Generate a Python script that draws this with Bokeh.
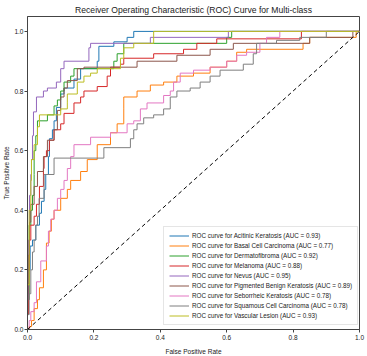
from bokeh.plotting import figure
from bokeh.models import Range1d, Legend, LegendItem, FixedTicker, PrintfTickFormatter
from bokeh.embed import file_html
from bokeh.resources import INLINE

class_names = ["Acitinic Keratosis", "Basal Cell Carcinoma", "Dermatofibroma", "Melanoma",
               "Nevus", "Pigmented Benign Keratosis", "Seborrheic Keratosis",
               "Squamous Cell Carcinoma", "Vascular Lesion"]
auc_values = [0.93, 0.77, 0.92, 0.88, 0.95, 0.89, 0.78, 0.78, 0.93]
colors = ["#1f77b4", "#ff7f0e", "#2ca02c", "#d62728", "#9467bd",
          "#8c564b", "#e377c2", "#7f7f7f", "#bcbd22"]

# (fpr, tpr) corner points: at fpr the tpr jumps to the given value
fpr_actinic = [0, 0, 0.003, 0.008, 0.015, 0.025, 0.036, 0.042, 0.05, 0.055, 0.063, 0.066, 0.075, 0.08, 0.087, 0.1, 0.11, 0.14, 0.16, 0.21, 0.215, 0.26, 0.3, 0.32, 1]
tpr_actinic = [0, 0.1, 0.2, 0.28, 0.3, 0.35, 0.39, 0.43, 0.47, 0.52, 0.58, 0.64, 0.67, 0.70, 0.745, 0.79, 0.81, 0.84, 0.875, 0.9, 0.95, 0.965, 0.98, 1.0, 1]

fpr_basal = [0, 0.005, 0.012, 0.02, 0.03, 0.036, 0.048, 0.057, 0.065, 0.072, 0.08, 0.10, 0.12, 0.13, 0.16, 0.18, 0.21, 0.25, 0.27, 0.29, 0.29, 0.33, 0.37, 0.41, 0.45, 0.5, 0.55, 0.6, 0.63, 0.66, 0.83, 0.85, 0.99, 1]
tpr_basal = [0, 0.01, 0.03, 0.07, 0.1, 0.14, 0.2, 0.29, 0.33, 0.37, 0.40, 0.44, 0.47, 0.50, 0.53, 0.57, 0.62, 0.66, 0.69, 0.74, 0.78, 0.80, 0.82, 0.83, 0.85, 0.86, 0.88, 0.9, 0.93, 0.94, 0.96, 0.98, 1.0, 1]

fpr_dermato = [0, 0, 0.005, 0.005, 0.01, 0.015, 0.02, 0.02, 0.025, 0.03, 0.06, 0.08, 0.09, 0.1, 0.11, 0.13, 0.14, 0.26, 0.27, 0.29, 0.6, 0.615, 1]
tpr_dermato = [0, 0.1, 0.2, 0.35, 0.4, 0.45, 0.52, 0.6, 0.65, 0.7, 0.72, 0.75, 0.77, 0.8, 0.83, 0.85, 0.875, 0.9, 0.925, 0.96, 0.98, 1.0, 1]

fpr_melanoma = [0, 0, 0.003, 0.005, 0.01, 0.02, 0.027, 0.036, 0.048, 0.05, 0.057, 0.066, 0.08, 0.10, 0.11, 0.14, 0.16, 0.17, 0.21, 0.24, 0.25, 0.28, 0.29, 0.38, 0.47, 0.51, 0.57, 0.825, 1]
tpr_melanoma = [0, 0.05, 0.2, 0.3, 0.35, 0.38, 0.42, 0.48, 0.54, 0.58, 0.60, 0.635, 0.67, 0.69, 0.725, 0.76, 0.78, 0.80, 0.815, 0.85, 0.88, 0.89, 0.91, 0.925, 0.94, 0.96, 0.975, 1.0, 1]

fpr_nevus = [0, 0, 0.003, 0.006, 0.01, 0.012, 0.015, 0.018, 0.027, 0.048, 0.06, 0.087, 0.10, 0.11, 0.185, 0.19, 0.37, 0.605, 1]
tpr_nevus = [0, 0.1, 0.3, 0.45, 0.52, 0.57, 0.65, 0.73, 0.78, 0.80, 0.81, 0.83, 0.875, 0.9, 0.945, 0.96, 0.98, 1.0, 1]

fpr_pbk = [0, 0, 0.004, 0.006, 0.01, 0.02, 0.03, 0.048, 0.06, 0.08, 0.09, 0.10, 0.11, 0.12, 0.15, 0.17, 0.33, 0.45, 0.55, 0.62, 0.85, 0.98, 1]
tpr_pbk = [0, 0.1, 0.25, 0.36, 0.42, 0.48, 0.53, 0.58, 0.635, 0.67, 0.735, 0.78, 0.81, 0.835, 0.875, 0.88, 0.90, 0.92, 0.94, 0.96, 0.98, 1.0, 1]

fpr_sebo = [0, 0.005, 0.01, 0.02, 0.027, 0.04, 0.057, 0.063, 0.07, 0.08, 0.09, 0.10, 0.11, 0.12, 0.13, 0.14, 0.19, 0.25, 0.30, 0.32, 0.34, 0.36, 0.41, 0.43, 0.44, 0.46, 0.5, 0.55, 0.6, 0.63, 0.66, 0.7, 0.72, 0.76, 1]
tpr_sebo = [0, 0.03, 0.06, 0.09, 0.16, 0.23, 0.28, 0.33, 0.37, 0.40, 0.44, 0.47, 0.50, 0.54, 0.58, 0.62, 0.645, 0.66, 0.69, 0.70, 0.74, 0.76, 0.785, 0.80, 0.83, 0.86, 0.87, 0.88, 0.90, 0.92, 0.93, 0.96, 0.98, 1.0, 1]

fpr_squamous = [0, 0, 0.005, 0.01, 0.015, 0.02, 0.025, 0.03, 0.035, 0.05, 0.08, 0.23, 0.31, 0.32, 0.33, 0.35, 0.38, 0.41, 0.43, 0.45, 0.49, 0.52, 0.55, 0.58, 0.65, 0.68, 0.69, 0.75, 0.82, 0.9, 1]
tpr_squamous = [0, 0.05, 0.12, 0.2, 0.26, 0.3, 0.35, 0.38, 0.44, 0.52, 0.575, 0.61, 0.64, 0.67, 0.69, 0.71, 0.72, 0.74, 0.78, 0.80, 0.81, 0.83, 0.85, 0.87, 0.89, 0.925, 0.96, 0.97, 0.98, 1.0, 1]

fpr_vascular = [0, 0, 0.005, 0.005, 0.01, 0.012, 0.02, 0.03, 0.036, 0.1, 0.12, 0.12, 0.15, 0.17, 0.19, 0.21, 0.28, 0.29, 0.32, 0.38, 1]
tpr_vascular = [0, 0.15, 0.25, 0.4, 0.5, 0.57, 0.62, 0.68, 0.72, 0.74, 0.76, 0.79, 0.83, 0.85, 0.86, 0.875, 0.91, 0.945, 0.96, 1.0, 1]

fprs = [fpr_actinic, fpr_basal, fpr_dermato, fpr_melanoma, fpr_nevus, fpr_pbk, fpr_sebo, fpr_squamous, fpr_vascular]
tprs = [tpr_actinic, tpr_basal, tpr_dermato, tpr_melanoma, tpr_nevus, tpr_pbk, tpr_sebo, tpr_squamous, tpr_vascular]

chance_x = [0, 1]
chance_y = [0, 1]
x_ticks = [0.0, 0.2, 0.4, 0.6, 0.8, 1.0]
y_ticks = [0.0, 0.2, 0.4, 0.6, 0.8, 1.0]

FONT = "Liberation Sans"
TXT = "#222222"
FRAME = "#444444"


def staircase(xs, ys):
    # ROC curve drawn as horizontal run then vertical jump at each fpr
    sx, sy = [xs[0]], [ys[0]]
    for i in range(1, len(xs)):
        sx += [xs[i], xs[i]]
        sy += [ys[i - 1], ys[i]]
    return sx, sy


p = figure(frame_width=332, frame_height=313, x_range=Range1d(0, 1), y_range=Range1d(0, 1.05),
           output_backend="svg", toolbar_location=None,
           min_border_left=26, min_border_right=9, min_border_top=16, min_border_bottom=27,
           title="Receiver Operating Characteristic (ROC) Curve for Multi-class")
p.margin = (0, 0, 0, 0)
p.title.align = "center"
p.title.text_font = FONT
p.title.text_font_size = "8.6px"
p.title.text_font_style = "normal"
p.title.text_color = TXT
p.title.standoff = 3
p.grid.visible = False
p.outline_line_color = FRAME
p.outline_line_width = 1
p.background_fill_color = "white"
p.border_fill_color = "white"

for ax, ticks in ((p.xaxis, x_ticks), (p.yaxis, y_ticks)):
    ax.ticker = FixedTicker(ticks=ticks)
    ax.formatter = PrintfTickFormatter(format="%.1f")
    ax.minor_tick_line_color = None
    ax.major_tick_in = 0
    ax.major_tick_out = 3
    ax.major_tick_line_color = FRAME
    ax.axis_line_color = FRAME
    ax.major_label_text_font = FONT
    ax.major_label_text_font_size = "6.5px"
    ax.major_label_text_color = TXT
    ax.axis_label_text_font = FONT
    ax.axis_label_text_font_size = "6.5px"
    ax.axis_label_text_font_style = "normal"
    ax.axis_label_text_color = TXT
    ax.major_label_standoff = 2
p.xaxis.axis_label = "False Positive Rate"
p.yaxis.axis_label = "True Positive Rate"
p.xaxis.axis_label_standoff = 5
p.yaxis.major_label_standoff = 1
p.yaxis.axis_label_standoff = 1

items = []
for name, auc, col, fx, ty in zip(class_names, auc_values, colors, fprs, tprs):
    sx, sy = staircase(fx, ty)
    r = p.line(sx, sy, line_color=col, line_width=1)
    items.append(LegendItem(label=f"ROC curve for {name} (AUC = {auc:.2f})", renderers=[r]))

p.line(chance_x, chance_y, line_color="black", line_dash="4 3", line_width=1)

legend = Legend(items=items, location=(136, 4))
legend.label_text_font = FONT
legend.label_text_font_size = "6.3px"
legend.label_text_color = TXT
legend.glyph_width = 20
legend.glyph_height = 7
legend.label_height = 7
legend.spacing = 3
legend.padding = 5
legend.label_standoff = 3
legend.border_line_color = "#cccccc"
legend.background_fill_alpha = 0.85
legend.margin = 0
p.add_layout(legend, "center")

open("out.html", "w").write(file_html(p, INLINE))
